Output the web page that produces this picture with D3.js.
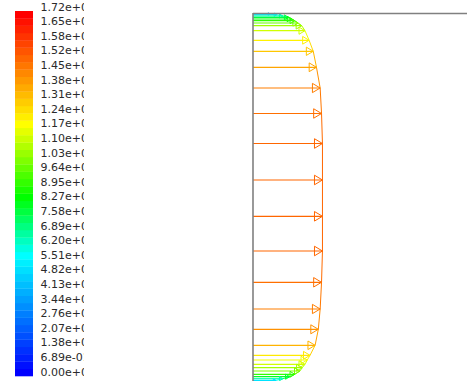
<!DOCTYPE html>
<html>
<head>
<meta charset="utf-8">
<script src="https://cdn.jsdelivr.net/npm/d3@7"></script>
<style>
  body { margin: 0; background: #fff; }
  svg { display: block; }
</style>
</head>
<body>
<div id="chart"></div>
<script>
// colour bar range and its labels (top to bottom)
const vMin = 0;
const vMax = 17.2;
const tickLabels = [
  "1.72e+01", "1.65e+01", "1.58e+01", "1.52e+01", "1.45e+01", "1.38e+01",
  "1.31e+01", "1.24e+01", "1.17e+01", "1.10e+01", "1.03e+01", "9.64e+00",
  "8.95e+00", "8.27e+00", "7.58e+00", "6.89e+00", "6.20e+00", "5.51e+00",
  "4.82e+00", "4.13e+00", "3.44e+00", "2.76e+00", "2.07e+00", "1.38e+00",
  "6.89e-01", "0.00e+00"
];
// colour map stops (fraction of range) and colours
const mapStops = [0, 0.327, 0.49, 0.694, 1];
const mapColors = ["#0000ff", "#00ffff", "#00ff00", "#ffff00", "#ff0000"];

// vectors along the line: position across the channel (0 = top wall, 1 = bottom wall)
const positions = [
  0.0008, 0.0027, 0.0062, 0.0097, 0.0144, 0.0190, 0.0252, 0.0325, 0.0460,
  0.0720, 0.1018, 0.1451, 0.2012, 0.2702, 0.3515, 0.4503, 0.5486, 0.6426,
  0.7273, 0.7996, 0.8546, 0.8979, 0.9250, 0.9377, 0.9494, 0.9586, 0.9675,
  0.9764, 0.9829, 0.9884, 0.9930
];
// velocity magnitude (m/s)
const velocities = [
  3.7, 5.2, 6.5, 7.7, 8.4, 9.1, 9.8, 10.6, 11.3,
  12.2, 13.1, 13.8, 14.6, 14.9, 15.1, 15.1, 15.1, 15.1,
  14.9, 14.6, 14.2, 13.5, 12.4, 11.8, 11.3, 10.7, 10.2,
  9.1, 8.0, 6.5, 5.0
];

const W = 467, H = 381;
const nBands = 50;

const svg = d3.select('#chart').append('svg')
  .attr('width', W)
  .attr('height', H);

svg.append('rect').attr('width', W).attr('height', H).attr('fill', '#fff');

const color = d3.scaleLinear()
  .domain(mapStops.map(f => vMin + f * (vMax - vMin)))
  .range(mapColors);

// ---- colour bar ----
const barTop = 11, barBottom = 376, barX = 15, barW = 18;
const bandY = d3.scaleLinear().domain([0, nBands]).range([barBottom, barTop]);

svg.append('g').selectAll('rect')
  .data(d3.range(nBands))
  .enter().append('rect')
  .attr('x', barX)
  .attr('y', i => bandY(i + 1))
  .attr('width', barW)
  .attr('height', i => bandY(i) - bandY(i + 1) + 0.3)
  .attr('fill', i => color(vMin + (i / (nBands - 1)) * (vMax - vMin)));

svg.append('clipPath').attr('id', 'lblclip')
  .append('rect').attr('x', 0).attr('y', 0).attr('width', 84).attr('height', H);

const labelY = d3.scalePoint().domain(tickLabels).range([barTop, barBottom]);

svg.append('g')
  .attr('clip-path', 'url(#lblclip)')
  .selectAll('text')
  .data(tickLabels)
  .enter().append('text')
  .attr('x', 40.5)
  .attr('y', d => labelY(d) - 0.5)
  .attr('font-family', 'DejaVu Sans, sans-serif')
  .attr('font-size', 11)
  .attr('fill', '#2a2a2a')
  .text(d => d);

// ---- vector plot ----
const wallX = 253;
const y = d3.scaleLinear().domain([0, 1]).range([13.7, 383]);
const x = d3.scaleLinear().domain([0, 15]).range([wallX, 322]);

const pts = positions.map((p, i) => ({ p, v: velocities[i] }));

// profile envelope through the arrow tips
const plot = svg.append('g');
for (let i = 0; i < pts.length - 1; i++) {
  const a = pts[i], b = pts[i + 1];
  plot.append('line')
    .attr('x1', x(a.v)).attr('y1', y(a.p))
    .attr('x2', x(b.v)).attr('y2', y(b.p))
    .attr('stroke', color((a.v + b.v) / 2))
    .attr('stroke-width', 1);
}

// arrows
const arrows = plot.selectAll('.arrow')
  .data(pts)
  .enter().append('g')
  .attr('class', 'arrow');

arrows.append('line')
  .attr('x1', wallX)
  .attr('x2', d => x(d.v))
  .attr('y1', d => y(d.p))
  .attr('y2', d => y(d.p))
  .attr('stroke', d => color(d.v))
  .attr('stroke-width', 1.2);

arrows.append('path')
  .attr('fill', 'none')
  .attr('stroke', d => color(d.v))
  .attr('stroke-width', 1)
  .attr('d', d => {
    const tx = x(d.v), ty = y(d.p);
    const len = tx - wallX;
    const hl = 0.115 * len, hw = 0.6 * hl;
    return `M${tx},${ty}L${tx - hl},${ty - hw}L${tx - hl},${ty + hw}Z`;
  });

// walls
svg.append('line')
  .attr('x1', wallX).attr('x2', W)
  .attr('y1', 13.5).attr('y2', 13.5)
  .attr('stroke', '#808080').attr('stroke-width', 1.5);

svg.append('line')
  .attr('x1', wallX).attr('x2', wallX)
  .attr('y1', 13).attr('y2', H)
  .attr('stroke', '#808080').attr('stroke-width', 1.6);
</script>
</body>
</html>
